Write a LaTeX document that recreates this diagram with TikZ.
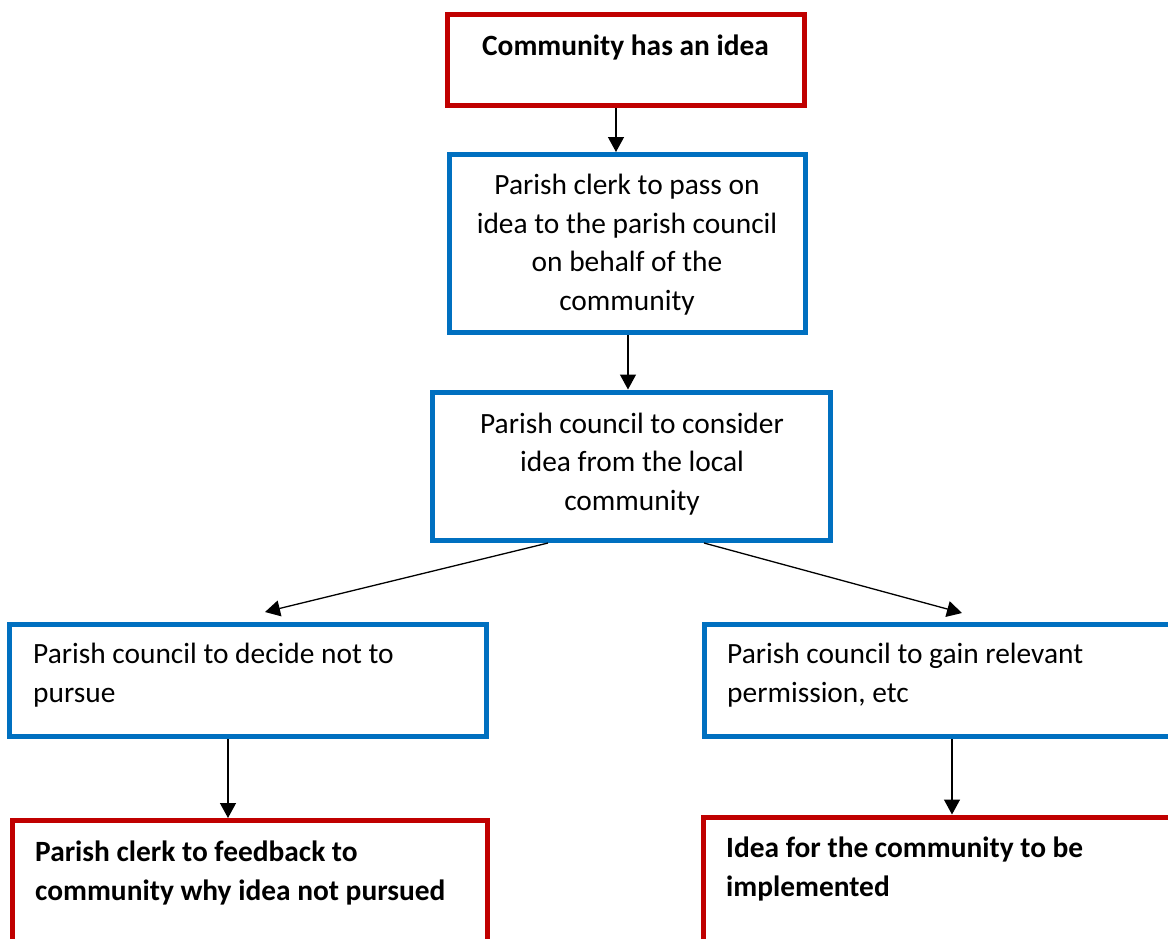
\documentclass[tikz,border=0pt]{standalone}
\usepackage{fontspec}
\setmainfont{Carlito}
\usetikzlibrary{arrows.meta}
\definecolor{cred}{HTML}{C00000}
\definecolor{cblue}{HTML}{0070C0}
\begin{document}
\begin{tikzpicture}[x=1pt,y=1pt,
 box/.style={draw, line width=5pt, anchor=north west, inner sep=0pt},
 rbox/.style={box, draw=cred},
 bbox/.style={box, draw=cblue},
 txt/.style={font=\fontsize{29.4}{38.5}\selectfont, inner sep=0pt, anchor=base},
 btxt/.style={txt, font=\fontsize{29.4}{38.5}\selectfont\bfseries},
 arr/.style={line width=1.3pt, -{Triangle[length=15pt,width=16pt]}}]
\useasboundingbox (0,0) rectangle (1168,-938);
\clip (0,0) rectangle (1168,-938);
% boxes
\node[rbox, minimum width=357pt, minimum height=91pt] (b1) at (445,-12) {};
\node[bbox, minimum width=356pt, minimum height=178pt] (b2) at (447,-152) {};
\node[bbox, minimum width=398pt, minimum height=148.5pt] (b3) at (429.5,-389.5) {};
\node[bbox, minimum width=477pt, minimum height=112pt] (b4) at (7,-622) {};
\node[rbox, minimum width=475pt, minimum height=180pt] (b5) at (10,-818) {};
\node[bbox, minimum width=546pt, minimum height=112pt] (b6) at (701.5,-622) {};
\node[rbox, minimum width=546pt, minimum height=180pt] (b7) at (701,-814.5) {};
% texts (base anchor = baseline of the last line)
\node[btxt] (t1) at (625.5,-55) {Community has an idea};
\node[txt, align=center] (t2) at (627,-310) {Parish clerk to pass on\\idea to the parish council\\on behalf of the\\community};
\node[txt, align=center] (t3) at (632,-510) {Parish council to consider\\idea from the local\\community};
\node[txt, anchor=base west, align=left] (t4) at (33,-702) {Parish council to decide not to\\pursue};
\node[btxt, anchor=base west, align=left] (t5) at (35,-900) {Parish clerk to feedback to\\community why idea not pursued};
\node[txt, anchor=base west, align=left] (t6) at (727,-702) {Parish council to gain relevant\\permission, etc};
\node[btxt, anchor=base west, align=left] (t7) at (726,-896) {Idea for the community to be\\implemented};
% connectors
\draw[arr] ([xshift=171pt]b1.south west) -- ([xshift=171pt]b1.south west |- b2.north);
\draw[arr] ([xshift=181pt]b2.south west) -- ([xshift=181pt]b2.south west |- b3.north);
\draw[arr] ([xshift=118.5pt]b3.south west) -- ([xshift=258pt,yshift=10pt]b4.north west);
\draw[arr] ([xshift=274.5pt]b3.south west) -- ([xshift=260.5pt,yshift=9pt]b6.north west);
\draw[arr] ([xshift=221pt]b4.south west) -- ([xshift=221pt]b4.south west |- b5.north);
\draw[arr] ([xshift=250.5pt]b6.south west) -- ([xshift=250.5pt]b6.south west |- b7.north);
\end{tikzpicture}
\end{document}
